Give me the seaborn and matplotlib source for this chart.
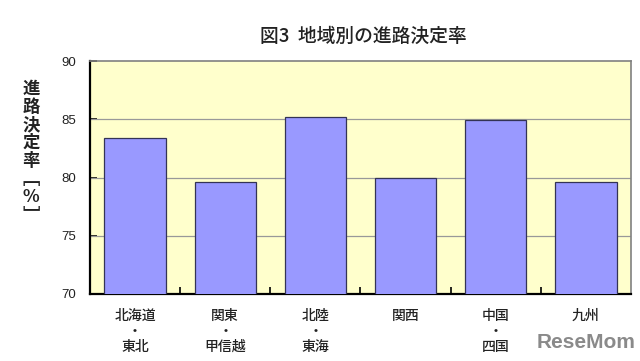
import matplotlib
matplotlib.use("Agg")
import matplotlib.pyplot as plt
import seaborn as sns
import pandas as pd

categories = ["北海道\n・\n東北", "関東\n・\n甲信越", "北陸\n・\n東海", "関西", "中国\n・\n四国", "九州"]
values = [83.4, 79.6, 85.2, 80.0, 84.9, 79.6]
yticks = [70, 75, 80, 85, 90]
title = "図3  地域別の進路決定率"
ylabel_chars = ["進", "路", "決", "定", "率", "﹇", "%", "﹈"]

sns.set_theme(style="white")
plt.rcParams['font.family'] = ['Noto Sans CJK JP', 'DejaVu Sans']

df = pd.DataFrame({"region": categories, "rate": values})

fig = plt.figure(figsize=(6.4, 3.61), dpi=100)
ax = fig.add_axes([90/640, 1-294/361, 541/640, 233/361])
ax.set_facecolor("#FFFFCC")

sns.barplot(data=df, x="region", y="rate", ax=ax, color="#9999FF",
            saturation=1, width=0.68, edgecolor="#333355", linewidth=0.9, zorder=3)

ax.set_ylim(70, 90)
ax.set_xlim(-0.5, len(categories) - 0.5)
ax.set_yticks(yticks)
ax.set_yticklabels([str(t) for t in yticks], family=['Liberation Sans'], fontsize=9.5, color="#222222")
for t in [75, 80, 85]:
    ax.axhline(t, color="#999999", lw=0.9, zorder=1)

ax.set_xticks(range(len(categories)))
ax.set_xticklabels(categories, fontsize=10, linespacing=1.12, color="#222222", fontweight="medium")
ax.tick_params(axis="x", length=0, pad=11)
ax.tick_params(axis="y", direction="in", length=5, width=1.2, color="black", pad=10, left=True)
ax.set_xticks([i + 0.5 for i in range(len(categories) - 1)], minor=True)
ax.tick_params(axis="x", which="minor", direction="in", length=5, width=1.2, color="black", bottom=True)

ax.set_xlabel("")
ax.set_ylabel("")
for s in ["left", "bottom"]:
    ax.spines[s].set_color("black")
    ax.spines[s].set_linewidth(1.6)
for s in ["right", "top"]:
    ax.spines[s].set_color("#808080")
    ax.spines[s].set_linewidth(1.2)
    ax.spines[s].set_visible(True)

fig.text(363/640, 1-36/361, title, ha="center", va="center", fontsize=13.5,
         fontweight="medium", color="#222222")

y0 = 89
for i, ch in enumerate(ylabel_chars):
    fig.text(31/640, 1-(y0 + i*18)/361, ch, ha="center", va="center", fontsize=12.5,
             fontweight="bold", color="#222222")

fig.text(635/640, 1-342/361, "ReseMom", ha="right", va="center", fontsize=15,
         fontweight="bold", color="#8a8a8a", family=["Liberation Sans"])

fig.savefig("out.png", dpi=100)
